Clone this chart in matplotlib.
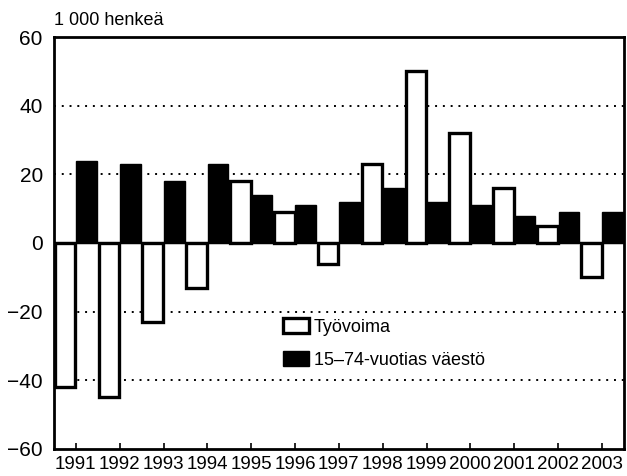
import numpy as np
import matplotlib
matplotlib.use('Agg')
import matplotlib.pyplot as plt

years = ['1991', '1992', '1993', '1994', '1995', '1996', '1997',
         '1998', '1999', '2000', '2001', '2002', '2003']
tyovoima = [-42, -45, -23, -13, 18, 9, -6, 23, 50, 32, 16, 5, -10]
vaesto = [24, 23, 18, 23, 14, 11, 12, 16, 12, 11, 8, 9, 9]

plt.rcParams['font.family'] = ['Liberation Sans', 'DejaVu Sans']

fig = plt.figure(figsize=(6.27, 4.76), dpi=100)
ax = fig.add_axes([0.086, 0.057, 0.909, 0.865])

x = np.arange(len(years))
w = 0.47
ax.bar(x - 0.245, tyovoima, w, color='white', edgecolor='black', linewidth=2.4,
       label='Työvoima', zorder=3)
ax.bar(x + 0.245, vaesto, w, color='black', edgecolor='black', linewidth=1,
       label='15\u201374-vuotias väestö', zorder=3)

ax.axhline(0, color='black', linewidth=1.5, zorder=4)
for yv in [-40, -20, 20, 40]:
    ax.axhline(yv, color='black', linewidth=1.4, linestyle=(0, (1, 3)), zorder=1)

ax.set_xlim(-0.5, len(years) - 0.5)
ax.set_ylim(-60, 60)
ax.set_yticks([-60, -40, -20, 0, 20, 40, 60])
ax.set_yticklabels(['\u221260', '\u221240', '\u221220', '0', '20', '40', '60'])
ax.set_xticks(x)
ax.set_xticklabels(years)
ax.tick_params(axis='y', length=0, labelsize=15, pad=8)
ax.tick_params(axis='x', direction='in', length=4, width=1.2, labelsize=13.5, pad=5)
for s in ax.spines.values():
    s.set_linewidth(2)

ax.text(0.0, 1.02, '1 000 henkeä', transform=ax.transAxes, fontsize=13,
        ha='left', va='bottom')

ax.legend(loc='upper left', bbox_to_anchor=(0.39, 0.335), frameon=False,
          fontsize=13, handlelength=1.4, handleheight=0.9, handletextpad=0.3,
          labelspacing=0.85, borderaxespad=0)

fig.savefig('out.png', dpi=100)
